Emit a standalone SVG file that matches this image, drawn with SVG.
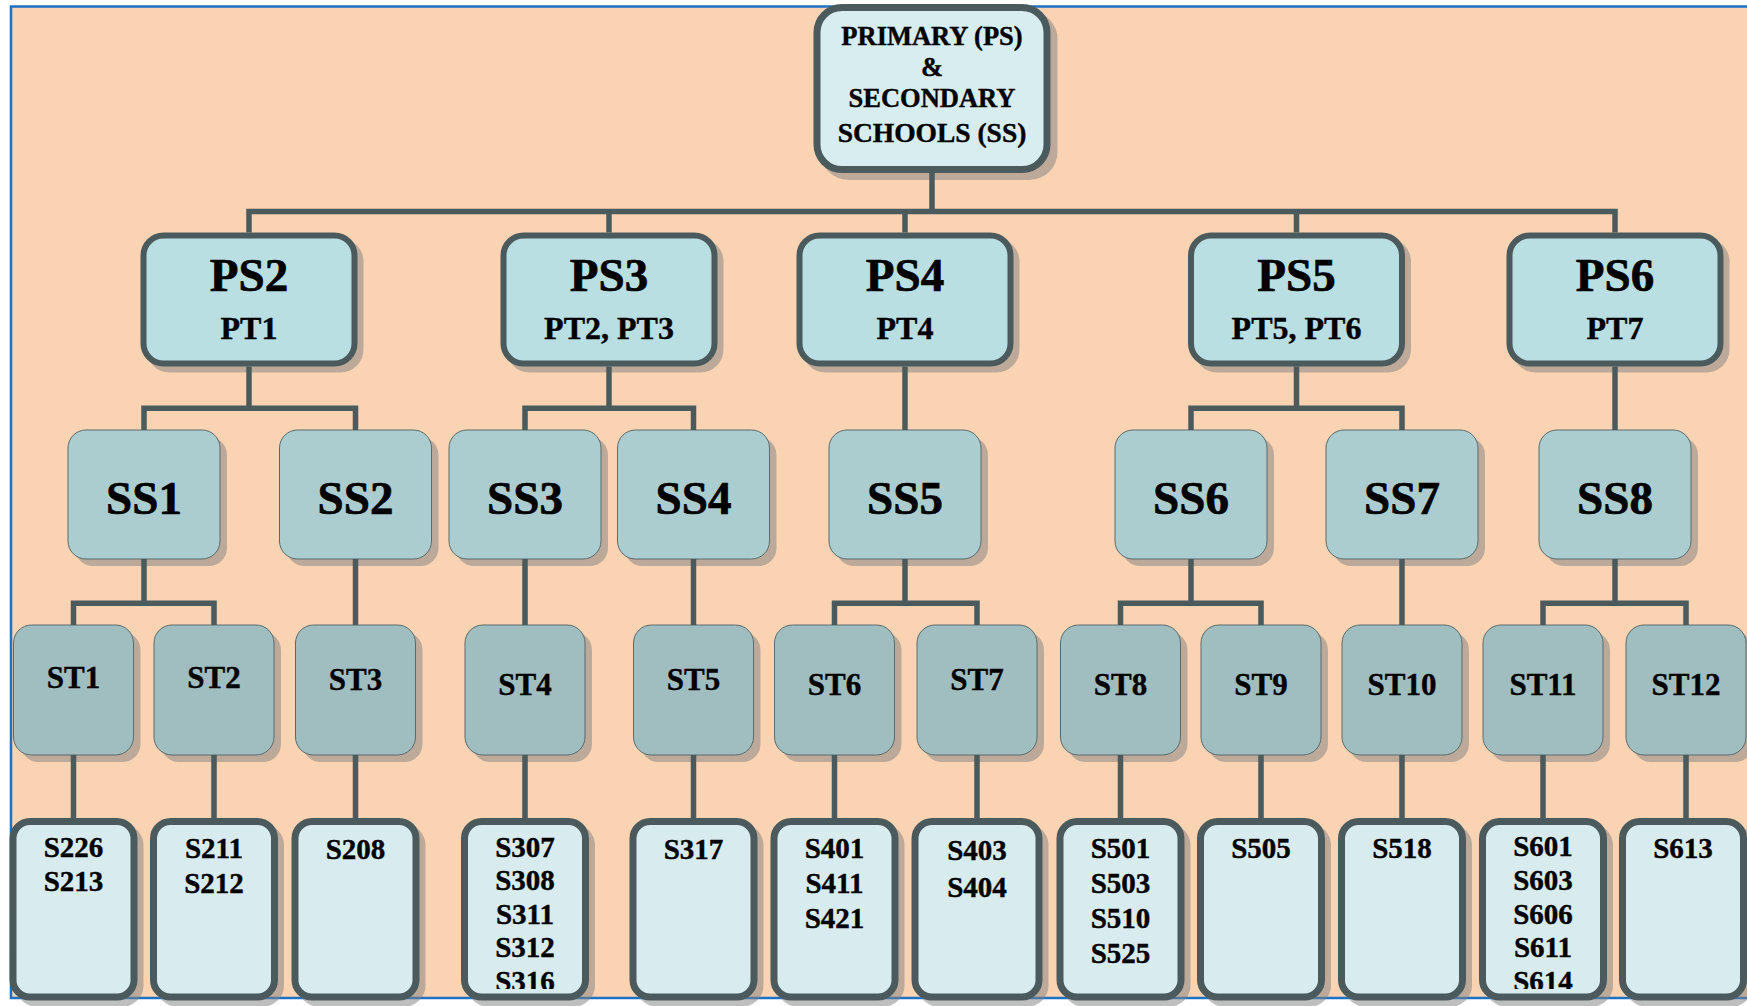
<svg xmlns="http://www.w3.org/2000/svg" width="1747" height="1006" viewBox="0 0 1747 1006">
<defs>
<style>
.frame{fill:#FAD3B3;stroke:#1D72C4;stroke-width:2.5}
.sh{fill:#808080;fill-opacity:0.5}
.root{fill:#D7EDF0;stroke:#4B5A5C;stroke-width:7}
.ps{fill:#B9DFE3;stroke:#4B5A5C;stroke-width:6}
.ss{fill:#ACCDD0;stroke:#5A6B6D;stroke-width:1}
.st{fill:#A0BEC0;stroke:#5A6B6D;stroke-width:1}
.sb{fill:#D8ECEF;stroke:#4B5A5C;stroke-width:7}
.conn path{fill:none;stroke:#4B5A5C;stroke-width:5.5}
text{font-family:"Liberation Serif","Times New Roman",serif;font-weight:bold;fill:#000;stroke:#000;stroke-width:0.4;text-anchor:middle}
.tr{font-size:26.5px}
.tr2{font-size:27.5px}
.tp{font-size:47px;stroke-width:0.7}
.tpt{font-size:32px}
.tss{font-size:47px;stroke-width:0.7}
.tst{font-size:31px}
.ts{font-size:29px}
</style>
<clipPath id="clipS"><rect x="0" y="800" width="1747" height="189"/></clipPath>
</defs>
<rect width="1747" height="1006" fill="#FFFFFF"/>
<rect class="frame" x="11" y="6.5" width="1800" height="991.5"/>

<g id="root">
<rect class="sh" x="820.5" y="11" width="237" height="169" rx="28"/>
<rect class="root" x="817" y="7.5" width="230" height="162" rx="25"/>
<text class="tr" x="932" y="44.5">PRIMARY (PS)</text>
<text class="tr" x="932" y="76">&amp;</text>
<text class="tr" x="932" y="107">SECONDARY</text>
<text class="tr2" x="932" y="141.5">SCHOOLS (SS)</text>
</g>

<g id="PS2">
<rect class="sh" x="146.5" y="238.5" width="217" height="134" rx="23"/>
<rect class="ps" x="143.5" y="235.5" width="211" height="128" rx="20"/>
<text class="tp" x="249" y="291">PS2</text>
<text class="tpt" x="249" y="338.5">PT1</text>
</g>
<g id="PS3">
<rect class="sh" x="506.5" y="238.5" width="217" height="134" rx="23"/>
<rect class="ps" x="503.5" y="235.5" width="211" height="128" rx="20"/>
<text class="tp" x="609" y="291">PS3</text>
<text class="tpt" x="609" y="338.5">PT2, PT3</text>
</g>
<g id="PS4">
<rect class="sh" x="802.5" y="238.5" width="217" height="134" rx="23"/>
<rect class="ps" x="799.5" y="235.5" width="211" height="128" rx="20"/>
<text class="tp" x="905" y="291">PS4</text>
<text class="tpt" x="905" y="338.5">PT4</text>
</g>
<g id="PS5">
<rect class="sh" x="1194" y="238.5" width="217" height="134" rx="23"/>
<rect class="ps" x="1191" y="235.5" width="211" height="128" rx="20"/>
<text class="tp" x="1296.5" y="291">PS5</text>
<text class="tpt" x="1296.5" y="338.5">PT5, PT6</text>
</g>
<g id="PS6">
<rect class="sh" x="1512.5" y="238.5" width="217" height="134" rx="23"/>
<rect class="ps" x="1509.5" y="235.5" width="211" height="128" rx="20"/>
<text class="tp" x="1615" y="291">PS6</text>
<text class="tpt" x="1615" y="338.5">PT7</text>
</g>

<g id="SS1"><rect class="sh" x="75" y="437" width="152" height="129" rx="18"/><rect class="ss" x="68" y="430" width="152" height="129" rx="18"/><text class="tss" x="144" y="513.5">SS1</text></g>
<g id="SS2"><rect class="sh" x="286.5" y="437" width="152" height="129" rx="18"/><rect class="ss" x="279.5" y="430" width="152" height="129" rx="18"/><text class="tss" x="355.5" y="513.5">SS2</text></g>
<g id="SS3"><rect class="sh" x="456" y="437" width="152" height="129" rx="18"/><rect class="ss" x="449" y="430" width="152" height="129" rx="18"/><text class="tss" x="525" y="513.5">SS3</text></g>
<g id="SS4"><rect class="sh" x="624.5" y="437" width="152" height="129" rx="18"/><rect class="ss" x="617.5" y="430" width="152" height="129" rx="18"/><text class="tss" x="693.5" y="513.5">SS4</text></g>
<g id="SS5"><rect class="sh" x="836" y="437" width="152" height="129" rx="18"/><rect class="ss" x="829" y="430" width="152" height="129" rx="18"/><text class="tss" x="905" y="513.5">SS5</text></g>
<g id="SS6"><rect class="sh" x="1122" y="437" width="152" height="129" rx="18"/><rect class="ss" x="1115" y="430" width="152" height="129" rx="18"/><text class="tss" x="1191" y="513.5">SS6</text></g>
<g id="SS7"><rect class="sh" x="1333" y="437" width="152" height="129" rx="18"/><rect class="ss" x="1326" y="430" width="152" height="129" rx="18"/><text class="tss" x="1402" y="513.5">SS7</text></g>
<g id="SS8"><rect class="sh" x="1546" y="437" width="152" height="129" rx="18"/><rect class="ss" x="1539" y="430" width="152" height="129" rx="18"/><text class="tss" x="1615" y="513.5">SS8</text></g>

<g id="ST1"><rect class="sh" x="20.5" y="632" width="120" height="130" rx="18"/><rect class="st" x="13.5" y="625" width="120" height="130" rx="18"/><text class="tst" x="73.5" y="688">ST1</text></g>
<g id="ST2"><rect class="sh" x="161" y="632" width="120" height="130" rx="18"/><rect class="st" x="154" y="625" width="120" height="130" rx="18"/><text class="tst" x="214" y="688">ST2</text></g>
<g id="ST3"><rect class="sh" x="302.5" y="632" width="120" height="130" rx="18"/><rect class="st" x="295.5" y="625" width="120" height="130" rx="18"/><text class="tst" x="355.5" y="690">ST3</text></g>
<g id="ST4"><rect class="sh" x="472" y="632" width="120" height="130" rx="18"/><rect class="st" x="465" y="625" width="120" height="130" rx="18"/><text class="tst" x="525" y="694.5">ST4</text></g>
<g id="ST5"><rect class="sh" x="640.5" y="632" width="120" height="130" rx="18"/><rect class="st" x="633.5" y="625" width="120" height="130" rx="18"/><text class="tst" x="693.5" y="690">ST5</text></g>
<g id="ST6"><rect class="sh" x="781.5" y="632" width="120" height="130" rx="18"/><rect class="st" x="774.5" y="625" width="120" height="130" rx="18"/><text class="tst" x="834.5" y="694.5">ST6</text></g>
<g id="ST7"><rect class="sh" x="924" y="632" width="120" height="130" rx="18"/><rect class="st" x="917" y="625" width="120" height="130" rx="18"/><text class="tst" x="977" y="690">ST7</text></g>
<g id="ST8"><rect class="sh" x="1067.5" y="632" width="120" height="130" rx="18"/><rect class="st" x="1060.5" y="625" width="120" height="130" rx="18"/><text class="tst" x="1120.5" y="694.5">ST8</text></g>
<g id="ST9"><rect class="sh" x="1208" y="632" width="120" height="130" rx="18"/><rect class="st" x="1201" y="625" width="120" height="130" rx="18"/><text class="tst" x="1261" y="694.5">ST9</text></g>
<g id="ST10"><rect class="sh" x="1349" y="632" width="120" height="130" rx="18"/><rect class="st" x="1342" y="625" width="120" height="130" rx="18"/><text class="tst" x="1402" y="694.5">ST10</text></g>
<g id="ST11"><rect class="sh" x="1490" y="632" width="120" height="130" rx="18"/><rect class="st" x="1483" y="625" width="120" height="130" rx="18"/><text class="tst" x="1543" y="694.5">ST11</text></g>
<g id="ST12"><rect class="sh" x="1633" y="632" width="120" height="130" rx="18"/><rect class="st" x="1626" y="625" width="120" height="130" rx="18"/><text class="tst" x="1686" y="694.5">ST12</text></g>

<g id="B1"><rect class="sh" x="15.5" y="824" width="128" height="182.5" rx="21"/><rect class="sb" x="13" y="821.5" width="121" height="175.5" rx="17"/>
<text class="ts" x="73.5" y="857">S226</text><text class="ts" x="73.5" y="891">S213</text></g>
<g id="B2"><rect class="sh" x="156" y="824" width="128" height="182.5" rx="21"/><rect class="sb" x="153.5" y="821.5" width="121" height="175.5" rx="17"/>
<text class="ts" x="214" y="858">S211</text><text class="ts" x="214" y="893">S212</text></g>
<g id="B3"><rect class="sh" x="297.5" y="824" width="128" height="182.5" rx="21"/><rect class="sb" x="295" y="821.5" width="121" height="175.5" rx="17"/>
<text class="ts" x="355.5" y="859">S208</text></g>
<g id="B4"><rect class="sh" x="467" y="824" width="128" height="182.5" rx="21"/><rect class="sb" x="464.5" y="821.5" width="121" height="175.5" rx="17"/>
<g clip-path="url(#clipS)"><text class="ts" x="525" y="857">S307</text><text class="ts" x="525" y="890.3">S308</text><text class="ts" x="525" y="923.6">S311</text><text class="ts" x="525" y="957">S312</text><text class="ts" x="525" y="990.5">S316</text></g></g>
<g id="B5"><rect class="sh" x="635.5" y="824" width="128" height="182.5" rx="21"/><rect class="sb" x="633" y="821.5" width="121" height="175.5" rx="17"/>
<text class="ts" x="693.5" y="859">S317</text></g>
<g id="B6"><rect class="sh" x="776.5" y="824" width="128" height="182.5" rx="21"/><rect class="sb" x="774" y="821.5" width="121" height="175.5" rx="17"/>
<text class="ts" x="834.5" y="858">S401</text><text class="ts" x="834.5" y="892.5">S411</text><text class="ts" x="834.5" y="928">S421</text></g>
<g id="B7"><rect class="sh" x="917.5" y="824" width="131" height="182.5" rx="21"/><rect class="sb" x="915" y="821.5" width="124" height="175.5" rx="17"/>
<text class="ts" x="977" y="860">S403</text><text class="ts" x="977" y="897">S404</text></g>
<g id="B8"><rect class="sh" x="1062.5" y="824" width="128" height="182.5" rx="21"/><rect class="sb" x="1060" y="821.5" width="121" height="175.5" rx="17"/>
<text class="ts" x="1120.5" y="858">S501</text><text class="ts" x="1120.5" y="892.5">S503</text><text class="ts" x="1120.5" y="928">S510</text><text class="ts" x="1120.5" y="963">S525</text></g>
<g id="B9"><rect class="sh" x="1203" y="824" width="128" height="182.5" rx="21"/><rect class="sb" x="1200.5" y="821.5" width="121" height="175.5" rx="17"/>
<text class="ts" x="1261" y="858">S505</text></g>
<g id="B10"><rect class="sh" x="1344" y="824" width="128" height="182.5" rx="21"/><rect class="sb" x="1341.5" y="821.5" width="121" height="175.5" rx="17"/>
<text class="ts" x="1402" y="858">S518</text></g>
<g id="B11"><rect class="sh" x="1485" y="824" width="128" height="182.5" rx="21"/><rect class="sb" x="1482.5" y="821.5" width="121" height="175.5" rx="17"/>
<g clip-path="url(#clipS)"><text class="ts" x="1543" y="856">S601</text><text class="ts" x="1543" y="889.5">S603</text><text class="ts" x="1543" y="923.5">S606</text><text class="ts" x="1543" y="957">S611</text><text class="ts" x="1543" y="990.5">S614</text></g></g>
<g id="B12"><rect class="sh" x="1625" y="824" width="128" height="182.5" rx="21"/><rect class="sb" x="1622.5" y="821.5" width="121" height="175.5" rx="17"/>
<text class="ts" x="1683" y="858">S613</text></g>

<g id="connectors" class="conn">
<path d="M932 173 V211.5"/>
<path d="M249 232.5 V211.5 H1615 V232.5"/>
<path d="M609 211.5 V232.5 M905 211.5 V232.5 M1296.5 211.5 V232.5"/>
<path d="M249 366.5 V408.3 M144 430 V408.3 H355.5 V430"/>
<path d="M609 366.5 V408.3 M525 430 V408.3 H693.5 V430"/>
<path d="M905 366.5 V430"/>
<path d="M1296.5 366.5 V408.3 M1191 430 V408.3 H1402 V430"/>
<path d="M1615 366.5 V430"/>
<path d="M144 559 V603.3 M73.5 625 V603.3 H214 V625"/>
<path d="M355.5 559 V625"/>
<path d="M525 559 V625"/>
<path d="M693.5 559 V625"/>
<path d="M905 559 V603.3 M834.5 625 V603.3 H977 V625"/>
<path d="M1191 559 V603.3 M1120.5 625 V603.3 H1261 V625"/>
<path d="M1402 559 V625"/>
<path d="M1615 559 V603.3 M1543 625 V603.3 H1686 V625"/>
<path d="M73.5 755 V818 M214 755 V818 M355.5 755 V818 M525 755 V818 M693.5 755 V818 M834.5 755 V818"/>
<path d="M977 755 V818 M1120.5 755 V818 M1261 755 V818 M1402 755 V818 M1543 755 V818 M1686 755 V818"/>
</g>
</svg>
